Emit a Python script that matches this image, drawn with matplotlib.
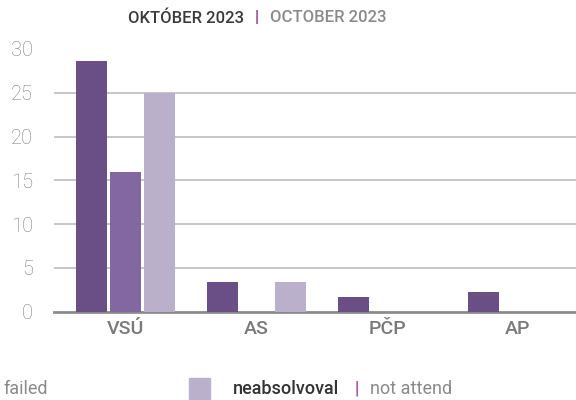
import numpy as np
import matplotlib
matplotlib.use('Agg')
import matplotlib.pyplot as plt
from matplotlib.patches import Rectangle

#
# data
categories = ['VSÚ', 'AS', 'PČP', 'AP']
passed     = [28.6, 3.4, 1.7, 2.2]
failed     = [16.0, 0.0, 0.0, 0.0]
not_attend = [25.0, 3.4, 0.0, 0.0]
yticks     = [0, 5, 10, 15, 20, 25, 30]

c_dark  = '#6a4e86'
c_mid   = '#8267a1'
c_light = '#bab0cc'
c_bar   = '#8b2c8b'

plt.rcParams['font.family'] = ['Roboto', 'DejaVu Sans']

W, H = 576, 400
fig = plt.figure(figsize=(W/100, H/100), dpi=100)
ax = fig.add_axes([54/W, (H-311.5)/H, (W-54)/W, (311.5-49)/H])

x = np.arange(len(categories))
sp = 131.0
step = 34/sp
width = 31/sp
ax.bar(x-step, passed,     width, color=c_dark,  zorder=3)
ax.bar(x,      failed,     width, color=c_mid,   zorder=3)
ax.bar(x+step, not_attend, width, color=c_light, zorder=3)

ax.set_xlim((54-125)/sp, (W-125)/sp)
ax.set_ylim(0, 30)
ax.set_yticks(yticks)
ax.set_yticklabels([str(v) for v in yticks], fontsize=14.5, color='#808080',
                   fontweight='light')
ax.set_xticks(x)
ax.set_xticklabels(categories, fontsize=14, color='#7a7a7a', fontweight='medium')
ax.tick_params(axis='y', length=0, pad=15)
ax.tick_params(axis='x', length=0, pad=6)

for v in yticks[1:-1]:
    ax.axhline(v, color='#bdbdbd', lw=1.2, zorder=1)
for s in ['top', 'right', 'left']:
    ax.spines[s].set_visible(False)
ax.spines['bottom'].set_color('#8c8c8c')
ax.spines['bottom'].set_linewidth(2)

#
# title
ty = 1 - 18/H
fig.text(128/W, ty, 'OKTÓBER 2023', fontsize=12, fontweight='medium',
         color='#3a3a3a', va='center')
fig.text(255/W, ty, '|', fontsize=12, fontweight='medium', color=c_bar, va='center')
fig.text(270/W, ty, 'OCTOBER 2023', fontsize=12, fontweight='medium',
         color='#8a8a8a', va='center')

#
# legend (left part is cut off in the original)
ly = 1 - 389/H
fig.text(3/W, ly, 'failed', fontsize=13, color='#8a8a8a', va='center')
fig.patches.append(Rectangle((189/W, 0), 21/W, 22/H, transform=fig.transFigure,
                             color=c_light, figure=fig))
fig.text(233/W, ly, 'neabsolvoval', fontsize=13, fontweight='medium',
         color='#333333', va='center')
fig.text(354/W, ly, '|', fontsize=13, color=c_bar, va='center')
fig.text(370/W, ly, 'not attend', fontsize=13, color='#8a8a8a', va='center')

fig.savefig('out.png', dpi=100)
plt.close()
